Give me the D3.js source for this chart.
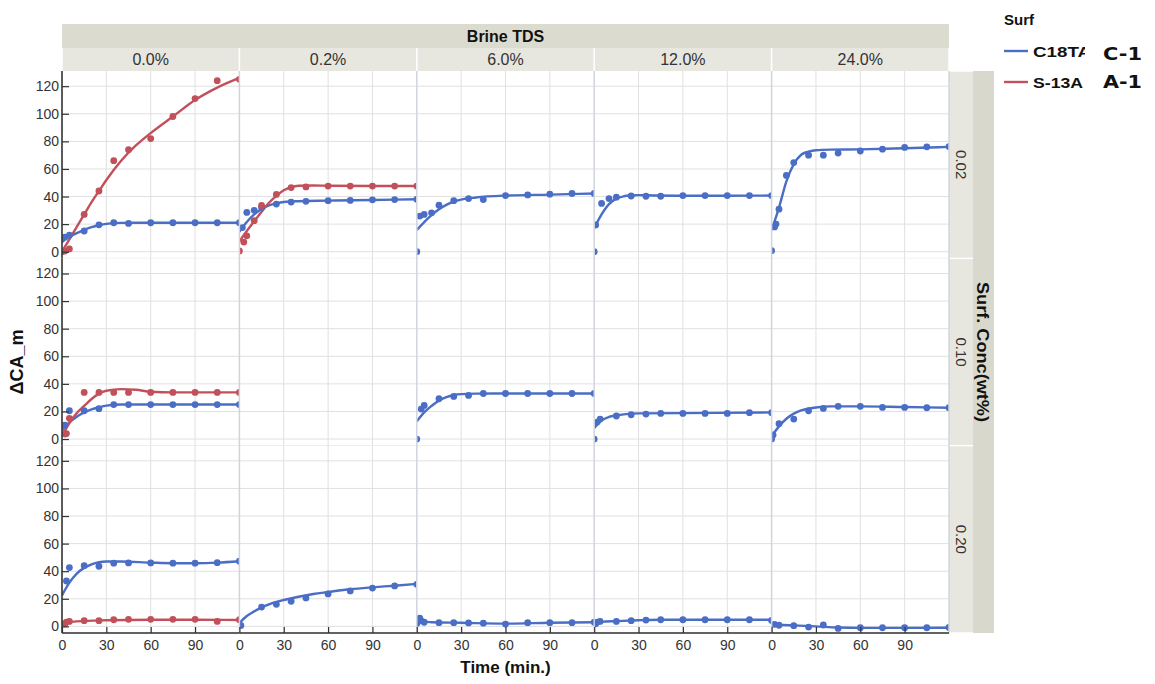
<!DOCTYPE html>
<html>
<head>
<meta charset="utf-8">
<script src="https://cdn.jsdelivr.net/npm/d3@7"></script>
<style>
  body { margin: 0; background: #fff; }
  svg { display: block; font-family: "Liberation Sans", Arial, Helvetica, sans-serif; }
</style>
</head>
<body>
<svg id="chart" width="1155" height="684"></svg>
<script>
// Facet categories and axis ticks
const brineTDS = ["0.0%", "0.2%", "6.0%", "12.0%", "24.0%"];
const surfConc = ["0.02", "0.10", "0.20"];
const surfactants = ["C18TA", "S-13A"];
const surfTags = ["C-1", "A-1"];
const timeTicks = [0, 30, 60, 90];
const caTicks = [0, 20, 40, 60, 80, 100, 120];
const timeDomain = [0, 120];
const caDomain = [-4.8, 131];

// Measured ΔCA_m [time (min), value] and fitted curves, per surfactant / conc / brine TDS
// --- Surf. Conc 0.02 wt%
const C18TA_002_00 = [[0,9],[2,10.5],[5,12],[15,15],[25,19.5],[35,21],[45,20.5],[60,21],[75,21],[90,21],[105,21],[120,21]];
const C18TA_002_00_fit = [[0,8.5],[5,11],[10,13.5],[15,15.8],[20,17.8],[25,19.2],[30,20.2],[40,20.9],[50,21],[60,21],[90,21],[120,21]];
const S13A_002_00 = [[0,0],[2,0.5],[5,2],[15,27],[25,44],[35,66],[45,74],[60,82],[75,98],[90,111],[105,124],[120,125]];
const S13A_002_00_fit = [[0,0],[5,9],[10,18],[15,27],[20,36],[25,44],[30,52],[40,66],[50,77],[60,86],[75,98],[90,110],[105,119],[120,126]];
const C18TA_002_02 = [[2,17.5],[5,28.5],[10,30],[15,32],[25,34.5],[35,36],[45,36.5],[60,37],[75,37.2],[90,37.6],[105,37.8],[120,38]];
const C18TA_002_02_fit = [[0,14.5],[5,21.5],[10,27],[15,31],[20,33.5],[25,35],[30,36],[40,36.6],[60,37],[90,37.5],[120,38]];
const S13A_002_02 = [[0,0.5],[3,7],[5,11.5],[10,22.5],[15,33.5],[25,41.5],[35,46.5],[45,47],[60,47.6],[75,47.6],[90,47.6],[105,47.6],[120,47.6]];
const S13A_002_02_fit = [[0,7.5],[5,15],[10,22],[15,29],[20,35.5],[25,40.5],[30,44.5],[35,46.8],[40,47.8],[50,48],[60,47.8],[90,47.6],[120,47.6]];
const C18TA_002_60 = [[0,0],[2,25.8],[5,27],[10,28.2],[15,33.7],[25,37],[35,38.5],[45,37.8],[60,40.7],[75,41.2],[90,41.7],[105,42.2],[120,42.2]];
const C18TA_002_60_fit = [[0,15.7],[5,21.5],[10,26.5],[15,30.8],[20,34],[25,36.3],[30,37.8],[40,39.3],[60,40.7],[90,41.4],[120,42.2]];
const C18TA_002_120 = [[0,0],[1,19.4],[5,35],[10,38.5],[15,39.5],[25,40.4],[35,40.2],[45,40.2],[60,40.7],[75,40.7],[90,40.7],[105,40.7],[120,40.7]];
const C18TA_002_120_fit = [[0,17],[5,27],[10,34.5],[15,38.5],[20,40.2],[25,40.8],[30,41],[40,40.8],[60,40.6],[90,40.6],[120,40.7]];
const C18TA_002_240 = [[0,0.7],[2,18],[3,20],[5,30.8],[10,55.3],[15,64.6],[25,70],[35,70],[45,71.5],[60,73],[75,74.3],[90,75.6],[105,76],[120,76.2]];
const C18TA_002_240_fit = [[0,15.6],[5,32],[10,51],[15,63.5],[20,70.3],[25,72.6],[30,73.6],[40,74],[60,74.2],[90,75],[120,76]];
// --- Surf. Conc 0.10 wt%
const C18TA_010_00 = [[2,10],[5,20.5],[15,20.5],[25,22],[35,25],[45,25],[60,25],[75,25],[90,25],[105,25],[120,25]];
const C18TA_010_00_fit = [[0,6],[5,12],[10,16.2],[15,19.3],[20,21.5],[25,23],[30,24.2],[40,25],[60,25],[120,25]];
const S13A_010_00 = [[2,3.6],[3,4],[5,15],[15,33.8],[25,33.8],[35,33.8],[45,33.8],[60,33.8],[75,33.8],[90,33.8],[105,33.8],[120,33.8]];
const S13A_010_00_fit = [[0,2],[5,11.6],[10,18.8],[15,24],[20,29],[25,32.9],[30,35],[40,36.2],[50,35.7],[60,34.3],[75,33.8],[120,33.8]];
const C18TA_010_60 = [[0,0],[3,21.7],[5,24.4],[15,29.2],[25,30.9],[35,31.6],[45,33],[60,33],[75,33],[90,33],[105,33],[120,33]];
const C18TA_010_60_fit = [[0,12.8],[5,19.3],[10,24],[15,28],[20,30.4],[25,31.9],[30,32.6],[40,32.9],[60,33],[120,33]];
const C18TA_010_120 = [[0,0],[2,12.3],[4,14.5],[15,16.7],[25,17.6],[35,18.1],[45,18.6],[60,18.6],[75,18.6],[90,18.6],[105,19.1],[120,19.1]];
const C18TA_010_120_fit = [[0,8],[5,13.5],[10,16],[15,17.1],[20,17.9],[30,18.6],[60,18.8],[120,19.3]];
const C18TA_010_240 = [[0,0],[1,3],[5,11.1],[15,14.5],[25,20.5],[35,22.2],[45,23.7],[60,23.7],[75,22.9],[90,22.9],[105,22.7],[120,22.7]];
const C18TA_010_240_fit = [[0,2],[5,9.2],[10,14.7],[15,18.4],[20,20.8],[25,22],[30,22.9],[40,23.7],[60,23.7],[90,23.2],[120,22.7]];
// --- Surf. Conc 0.20 wt%
const C18TA_020_00 = [[3,32.9],[5,42.6],[15,44],[25,43.6],[35,45.8],[45,46],[60,46],[75,45.8],[90,45.8],[105,46.2],[120,47.2]];
const C18TA_020_00_fit = [[0,22.5],[5,31.7],[10,38.3],[15,42.4],[20,45],[25,46.5],[30,47],[40,47],[60,46.2],[75,45.8],[90,45.8],[105,46.2],[120,47.2]];
const S13A_020_00 = [[2,1.9],[3,3.1],[5,3.6],[15,4.1],[25,4.1],[35,4.8],[45,5.1],[60,5.1],[75,5.1],[90,5.1],[105,3.6],[120,4.8]];
const S13A_020_00_fit = [[0,2.4],[10,3.6],[30,4.4],[60,4.8],[90,4.8],[120,4.6]];
const C18TA_020_02 = [[1,0.7],[15,14],[25,16],[35,18.2],[45,20.6],[60,23.5],[75,25.7],[90,27.8],[105,29.3],[120,30.5]];
const C18TA_020_02_fit = [[0,2.4],[5,7.5],[10,10.9],[15,13.8],[20,16],[25,17.7],[30,19.1],[40,21.5],[50,23.5],[60,24.9],[75,26.9],[90,28.3],[105,29.5],[120,30.8]];
const C18TA_020_60 = [[0,2],[2,6],[3,4],[5,3],[15,2.7],[25,2.7],[35,2.5],[45,2.3],[60,1.7],[75,2.7],[90,2.7],[105,2.7],[120,3]];
const C18TA_020_60_fit = [[0,1],[3,3.5],[10,3],[30,2.6],[60,2],[90,2.6],[120,3]];
const C18TA_020_120 = [[1,1.9],[2,3.1],[4,3.6],[15,3.6],[25,4.1],[35,4.6],[45,4.8],[60,4.8],[75,4.8],[90,4.8],[105,4.8],[120,4.3]];
const C18TA_020_120_fit = [[0,2],[5,3.3],[15,3.8],[30,4.4],[45,4.8],[120,4.8]];
const C18TA_020_240 = [[2,1.5],[5,0.8],[15,0.5],[25,-0.5],[35,1],[45,-1.5],[60,-1],[75,-1],[90,-1],[105,-1],[120,-0.8]];
const C18TA_020_240_fit = [[0,2],[5,1.2],[15,0.7],[30,0],[45,-0.8],[60,-1.1],[120,-1]];

// Table of runs for drawing
const runs = [
  ["C18TA", "0.02", "0.0%", C18TA_002_00, C18TA_002_00_fit],
  ["S-13A", "0.02", "0.0%", S13A_002_00, S13A_002_00_fit],
  ["C18TA", "0.02", "0.2%", C18TA_002_02, C18TA_002_02_fit],
  ["S-13A", "0.02", "0.2%", S13A_002_02, S13A_002_02_fit],
  ["C18TA", "0.02", "6.0%", C18TA_002_60, C18TA_002_60_fit],
  ["C18TA", "0.02", "12.0%", C18TA_002_120, C18TA_002_120_fit],
  ["C18TA", "0.02", "24.0%", C18TA_002_240, C18TA_002_240_fit],
  ["C18TA", "0.10", "0.0%", C18TA_010_00, C18TA_010_00_fit],
  ["S-13A", "0.10", "0.0%", S13A_010_00, S13A_010_00_fit],
  ["C18TA", "0.10", "6.0%", C18TA_010_60, C18TA_010_60_fit],
  ["C18TA", "0.10", "12.0%", C18TA_010_120, C18TA_010_120_fit],
  ["C18TA", "0.10", "24.0%", C18TA_010_240, C18TA_010_240_fit],
  ["C18TA", "0.20", "0.0%", C18TA_020_00, C18TA_020_00_fit],
  ["S-13A", "0.20", "0.0%", S13A_020_00, S13A_020_00_fit],
  ["C18TA", "0.20", "0.2%", C18TA_020_02, C18TA_020_02_fit],
  ["C18TA", "0.20", "6.0%", C18TA_020_60, C18TA_020_60_fit],
  ["C18TA", "0.20", "12.0%", C18TA_020_120, C18TA_020_120_fit],
  ["C18TA", "0.20", "24.0%", C18TA_020_240, C18TA_020_240_fit]
].map(([surf, conc, tds, pts, fit]) => ({ surf, conc, tds, pts, fit }));

// ---- Layout and scales
const svg = d3.select("#chart");
const M = { left: 62, right: 949, top: 71, bottom: 633 };
const colBand = d3.scaleBand().domain(brineTDS).range([M.left, M.right]);
const rowBand = d3.scaleBand().domain(surfConc).range([M.top, M.bottom]);
const bw = colBand.bandwidth(), bh = rowBand.bandwidth();
const x = d3.scaleLinear().domain(timeDomain).range([0, bw]);
const y = d3.scaleLinear().domain(caDomain).range([bh, 0]);
const color = d3.scaleOrdinal().domain(surfactants).range(["#4a6dc6", "#c2505b"]);
const gridColor = "#e0e0e0";
const inkColor = "#333";

const defs = svg.append("defs");
defs.append("clipPath").attr("id", "panel-clip")
  .append("rect").attr("width", bw).attr("height", bh);
defs.append("clipPath").attr("id", "legend-clip")
  .append("rect").attr("x", 995).attr("y", 30).attr("width", 90).attr("height", 70);

// ---- Column header strips (Brine TDS)
svg.append("rect").attr("x", M.left).attr("y", 24).attr("width", M.right - M.left).attr("height", 24)
  .attr("fill", "#dcdbd0");
svg.append("text").attr("x", (M.left + M.right) / 2).attr("y", 42)
  .attr("text-anchor", "middle").attr("font-weight", "bold").attr("font-size", 16)
  .attr("fill", "#111").text("Brine TDS");
const colHead = svg.append("g").selectAll("g").data(brineTDS).join("g")
  .attr("transform", d => `translate(${colBand(d)},48)`);
colHead.append("rect").attr("x", 0.75).attr("width", bw - 1.5).attr("height", 23).attr("fill", "#e8e7df");
colHead.append("text").attr("x", bw / 2).attr("y", 17).attr("text-anchor", "middle")
  .attr("font-size", 16).attr("fill", inkColor).text(d => d);

// ---- Row strips (Surf. Conc)
const rowHead = svg.append("g").selectAll("g").data(surfConc).join("g")
  .attr("transform", d => `translate(${M.right},${rowBand(d)})`);
rowHead.append("rect").attr("y", 0.75).attr("width", 24).attr("height", bh - 1.5).attr("fill", "#e8e7df");
rowHead.append("text").attr("transform", `translate(7,${bh / 2}) rotate(90)`)
  .attr("text-anchor", "middle").attr("font-size", 15).attr("fill", inkColor).text(d => d);
svg.append("rect").attr("x", M.right + 24).attr("y", M.top).attr("width", 21).attr("height", M.bottom - M.top)
  .attr("fill", "#d9d8cc");
svg.append("text").attr("transform", `translate(${M.right + 28},${(M.top + M.bottom) / 2}) rotate(90)`)
  .attr("text-anchor", "middle").attr("font-weight", "bold").attr("font-size", 16)
  .attr("textLength", 140).attr("lengthAdjust", "spacingAndGlyphs")
  .attr("fill", "#111").text("Surf. Conc(wt%)");

// ---- Panels
const line = d3.line().x(d => x(d[0])).y(d => y(d[1])).curve(d3.curveMonotoneX);
const cells = d3.cross(surfConc, brineTDS);
const panel = svg.append("g").selectAll("g").data(cells).join("g")
  .attr("transform", ([c, t]) => `translate(${colBand(t)},${rowBand(c)})`);

panel.append("rect").attr("width", bw).attr("height", bh).attr("fill", "#fff");
panel.append("g").selectAll("line").data(caTicks).join("line")
  .attr("x1", 0).attr("x2", bw).attr("y1", d => y(d)).attr("y2", d => y(d))
  .attr("stroke", gridColor).attr("stroke-width", 1);
panel.append("g").selectAll("line").data(timeTicks.slice(1)).join("line")
  .attr("y1", 0).attr("y2", bh).attr("x1", d => x(d)).attr("x2", d => x(d))
  .attr("stroke", gridColor).attr("stroke-width", 1);
panel.append("line").attr("x1", 0).attr("x2", bw).attr("y1", bh).attr("y2", bh)
  .attr("stroke", gridColor).attr("stroke-width", 1);

const marks = panel.append("g").attr("clip-path", "url(#panel-clip)");
marks.each(function ([c, t]) {
  const g = d3.select(this);
  const here = runs.filter(r => r.conc === c && r.tds === t);
  g.selectAll("path.fit").data(here).join("path").attr("class", "fit")
    .attr("d", r => line(r.fit)).attr("fill", "none")
    .attr("stroke", r => color(r.surf)).attr("stroke-width", 2.4);
  here.forEach(r => {
    g.append("g").selectAll("circle").data(r.pts).join("circle")
      .attr("cx", d => x(d[0])).attr("cy", d => y(d[1])).attr("r", 3.4)
      .attr("fill", color(r.surf));
  });
});

// Column separators
svg.append("g").selectAll("line").data(brineTDS.slice(1).concat(["end"])).join("line")
  .attr("x1", d => d === "end" ? M.right : colBand(d)).attr("x2", d => d === "end" ? M.right : colBand(d))
  .attr("y1", M.top).attr("y2", M.bottom)
  .attr("stroke", "#d0d4de").attr("stroke-width", 1.5);

// ---- Axes
surfConc.forEach(c => {
  const g = svg.append("g").attr("transform", `translate(${M.left},${rowBand(c)})`)
    .call(d3.axisLeft(y).tickValues(caTicks).tickSizeInner(-7).tickSizeOuter(0).tickPadding(3));
  g.select(".domain").attr("stroke", inkColor).attr("stroke-width", 1.6)
    .attr("d", `M0,0V${bh}`);
  g.selectAll(".tick line").attr("stroke", inkColor).attr("stroke-width", 1.2);
  g.selectAll(".tick text").attr("font-size", 14).attr("fill", inkColor)
    .attr("font-family", "Liberation Sans, Arial, sans-serif");
});
brineTDS.forEach(t => {
  const g = svg.append("g").attr("transform", `translate(${colBand(t)},${M.bottom})`)
    .call(d3.axisBottom(x).tickValues(timeTicks).tickSizeInner(-6).tickSizeOuter(0).tickPadding(7));
  g.select(".domain").attr("stroke", inkColor).attr("stroke-width", 1.6).attr("d", `M0,0H${bw}`);
  g.selectAll(".tick line").attr("stroke", inkColor).attr("stroke-width", 1.2);
  g.selectAll(".tick text").attr("font-size", 14).attr("fill", inkColor)
    .attr("font-family", "Liberation Sans, Arial, sans-serif");
});

// Axis titles
svg.append("text").attr("transform", `translate(23,362) rotate(-90)`)
  .attr("text-anchor", "middle").attr("font-weight", "bold").attr("font-size", 18)
  .attr("fill", "#111").text("ΔCA_m");
svg.append("text").attr("x", (M.left + M.right) / 2).attr("y", 673)
  .attr("text-anchor", "middle").attr("font-weight", "bold").attr("font-size", 17)
  .attr("fill", "#111").text("Time (min.)");

// ---- Legend
const legend = svg.append("g");
legend.append("text").attr("x", 1004).attr("y", 25).attr("font-weight", "bold").attr("font-size", 15)
  .attr("fill", "#111").text("Surf");
const legendY = [51, 82];
const labels = legend.append("g").attr("clip-path", "url(#legend-clip)");
surfactants.forEach((s, i) => {
  legend.append("line").attr("x1", 1004).attr("x2", 1028).attr("y1", legendY[i]).attr("y2", legendY[i])
    .attr("stroke", color(s)).attr("stroke-width", 2.4);
  labels.append("text").attr("x", 1033).attr("y", legendY[i] + 5.5)
    .attr("font-weight", "bold").attr("font-size", 15.5)
    .attr("textLength", i === 0 ? 58 : 50).attr("lengthAdjust", "spacingAndGlyphs")
    .attr("fill", "#111").text(s);
  legend.append("text").attr("x", 1103).attr("y", legendY[i] + (i === 0 ? 9 : 5.5))
    .attr("font-family", "DejaVu Sans, Verdana, sans-serif").attr("font-weight", "bold").attr("font-size", 18)
    .attr("textLength", 39).attr("lengthAdjust", "spacingAndGlyphs")
    .attr("fill", "#111").text(surfTags[i]);
});
</script>
</body>
</html>
